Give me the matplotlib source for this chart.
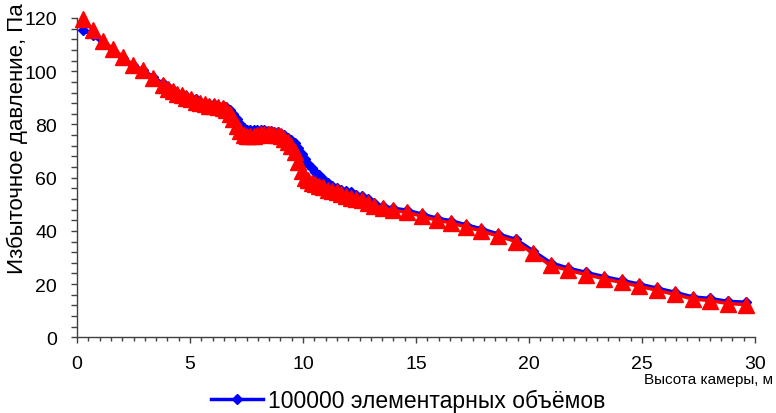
import numpy as np
import matplotlib
matplotlib.use("Agg")
import matplotlib.pyplot as plt
from matplotlib.ticker import MultipleLocator

plt.rcParams["font.family"] = ["Liberation Sans", "DejaVu Sans"]

# ── данные ─────────────────────────────────────────────────────────
height_m = [0.25, 0.70, 1.14, 1.58, 2.02, 2.46, 2.91, 3.35, 3.79, 4.04,
            4.24, 4.44, 4.64, 4.84, 5.05, 5.25, 5.45, 5.65, 5.85, 6.05,
            6.26, 6.46, 6.61, 6.76, 6.91, 7.06, 7.21, 7.37, 7.52, 7.67,
            7.82, 7.97, 8.12, 8.27, 8.43, 8.58, 8.73, 8.88, 9.03, 9.18,
            9.33, 9.48, 9.64, 9.79, 9.94, 10.09, 10.24, 10.39, 10.54, 10.70,
            10.90, 11.10, 11.30, 11.50, 11.70, 11.91, 12.11, 12.36, 12.61, 12.86,
            13.12, 13.56, 14.00, 14.59, 15.26, 15.92, 16.55, 17.21, 17.88, 18.65,
            19.42, 20.18, 20.96, 21.74, 22.52, 23.32, 24.10, 24.88, 25.65, 26.47,
            27.24, 28.01, 28.80, 29.60]

p_100k = [115.5, 113.5, 110.5, 107.5, 105.0, 102.5, 100.5, 98.0, 95.5, 94.0,
          93.0, 92.0, 91.5, 90.5, 90.0, 89.5, 88.5, 88.0, 87.5, 87.5,
          87.0, 87.0, 86.5, 85.5, 84.0, 82.0, 80.0, 78.5, 78.0, 78.0,
          78.0, 78.0, 78.0, 78.0, 77.5, 77.5, 77.0, 77.0, 76.5, 76.0,
          75.0, 74.0, 73.0, 71.0, 69.0, 67.0, 65.0, 63.5, 62.0, 61.0,
          59.5, 58.0, 57.0, 56.0, 55.5, 55.0, 54.5, 53.5, 53.0, 52.0,
          50.3, 49.3, 48.5, 47.8, 46.3, 44.8, 43.8, 42.3, 40.8, 38.8,
          36.8, 32.5, 28.0, 26.0, 24.4, 22.8, 21.4, 20.0, 18.5, 16.9,
          15.2, 14.6, 13.5, 13.2]

p_other = [119.5, 115.5, 111.5, 108.5, 105.5, 102.5, 100.5, 97.5, 95.0, 93.5,
           92.5, 91.5, 91.0, 90.0, 89.5, 88.5, 88.0, 87.5, 87.0, 87.0,
           86.5, 86.0, 85.5, 84.0, 82.0, 79.5, 77.5, 76.0, 75.5, 75.5,
           75.5, 76.0, 76.5, 76.5, 76.5, 76.5, 76.0, 76.0, 75.5, 74.5,
           73.5, 72.0, 69.5, 66.0, 62.5, 60.0, 59.0, 58.0, 57.5, 57.0,
           56.5, 55.5, 55.0, 54.5, 54.0, 53.0, 52.5, 52.0, 51.5, 50.5,
           49.5, 48.5, 47.7, 47.0, 45.5, 44.0, 43.0, 41.5, 40.0, 38.0,
           36.0, 31.5, 27.0, 25.2, 23.6, 22.0, 20.6, 19.2, 17.7, 16.1,
           14.4, 13.8, 12.7, 12.3]

fig = plt.figure(figsize=(7.76, 4.14), dpi=100)
ax = fig.add_axes([0.09923, 0.18285, 0.87371, 0.77126])

ax.plot(height_m, p_100k, color="#0000ff", lw=2.5, marker="D", ms=5.5,
        clip_on=False, label="100000 элементарных объёмов", zorder=3)
ax.plot(height_m, p_other, color="#ff0000", lw=2.5, marker="^", ms=11,
        clip_on=False, zorder=4)

ax.set_xlim(0, 30); ax.set_ylim(0, 120)
ax.xaxis.set_major_locator(MultipleLocator(5))
ax.xaxis.set_minor_locator(MultipleLocator(0.5))
ax.yaxis.set_major_locator(MultipleLocator(20))
ax.yaxis.set_minor_locator(MultipleLocator(4))
for s in ("top", "right"):
    ax.spines[s].set_visible(False)
for s in ("left", "bottom"):
    ax.spines[s].set_color("#404040"); ax.spines[s].set_linewidth(1)
ax.tick_params(axis="both", which="both", direction="out", colors="#404040",
               labelcolor="black", labelsize=14, width=1)
ax.tick_params(axis="x", which="major", length=4, pad=9)
ax.tick_params(axis="x", which="minor", length=2.9)
ax.tick_params(axis="y", which="both", length=4.3, pad=10)

fig.text(17/776, 1 - 138.5/414, "Избыточное давление, Па", rotation=90,
         ha="center", va="center", fontsize=16)
fig.text(773/776, 1 - 380/414, "Высота камеры, м", ha="right", va="center",
         fontsize=11, family=["Liberation Sans Narrow", "Liberation Sans"])

fig.legend(loc="center", bbox_to_anchor=(0.526, 0.0297), frameon=False,
           fontsize=16.5, handlelength=2.3, handletextpad=0.22,
           borderpad=0, borderaxespad=0)

fig.savefig("out.png", dpi=100)
